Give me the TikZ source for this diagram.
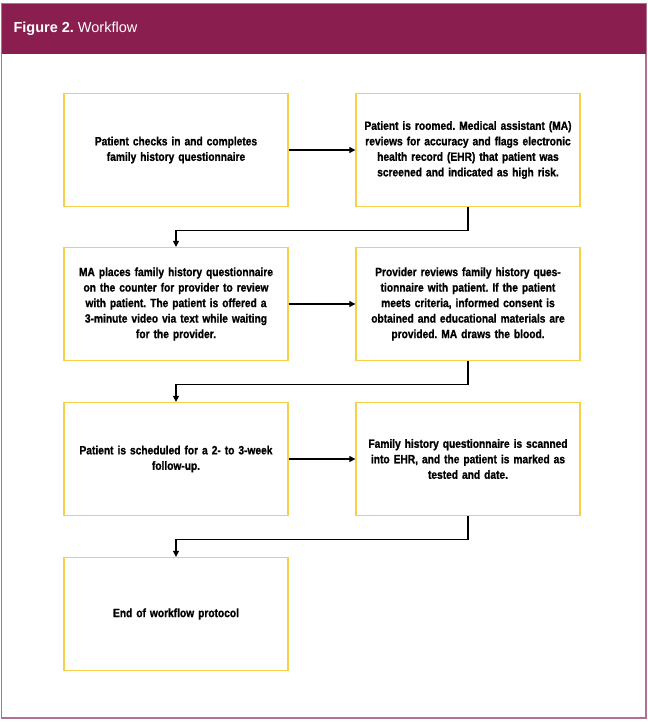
\documentclass[tikz,border=0pt]{standalone}
\usepackage{fontspec}
\setmainfont{Liberation Sans}
\newfontfamily\boxfont[FakeStretch=0.85,FakeBold=1]{Liberation Sans Bold}
\usetikzlibrary{arrows.meta}
\definecolor{headmaroon}{RGB}{138,30,78}
\definecolor{framepink}{RGB}{176,112,146}
\definecolor{boxgold}{RGB}{246,208,72}
\frenchspacing

\begin{document}
\begin{tikzpicture}[x=1pt,y=-1pt,>={Triangle[length=6pt,width=6pt]}]
 \tikzstyle{stepbox}=[draw=boxgold,line width=1.3pt,minimum width=224pt,minimum height=113pt,
   inner xsep=1pt,text width=222pt,align=center,font=\boxfont\fontsize{12}{15.5}\selectfont];
 \tikzstyle{flow}=[draw,black,line width=1.1pt,->];
    \useasboundingbox (0,0) rectangle (648,724);
    \fill[white] (0,0) rectangle (648,724);
    % frame and header
    \draw[framepink,line width=1.4pt] (1.5,4) rectangle (646,718);
    \fill[headmaroon] (1.5,4) rectangle (646,54);
    \node at (10,29) (title) [anchor=west,text=white,font=\fontsize{14.5}{16}\selectfont] {\textbf{Figure 2.} Workflow};
    % boxes
    \node at (176,150) (checkin) [stepbox] {Patient checks in and completes\\family history questionnaire};
    \node at (468,150) (roomed) [stepbox] {Patient is roomed. Medical assistant (MA)\\reviews for accuracy and flags electronic\\health record (EHR) that patient was\\screened and indicated as high risk.};
    \node at (176,304) (counter) [stepbox] {MA places family history questionnaire\\on the counter for provider to review\\with patient. The patient is offered a\\3-minute video via text while waiting\\for the provider.};
    \node at (468,304) (review) [stepbox] {Provider reviews family history ques-\\tionnaire with patient. If the patient\\meets criteria, informed consent is\\obtained and educational materials are\\provided. MA draws the blood.};
    \node at (176,459) (followup) [stepbox] {Patient is scheduled for a 2- to 3-week\\follow-up.};
    \node at (468,459) (scanned) [stepbox] {Family history questionnaire is scanned\\into EHR, and the patient is marked as\\tested and date.};
    \node at (176,614) (finish) [stepbox] {End of workflow protocol};
    % connectors
    \path[flow] (checkin) -- (roomed);
    \path[flow] (counter) -- (review);
    \path[flow] (followup) -- (scanned);
    \path[flow] (roomed.south) -- ++(0,23) -| (counter.north);
    \path[flow] (review.south) -- ++(0,23) -| (followup.north);
    \path[flow] (scanned.south) -- ++(0,23) -| (finish.north);
\end{tikzpicture}
\end{document}
